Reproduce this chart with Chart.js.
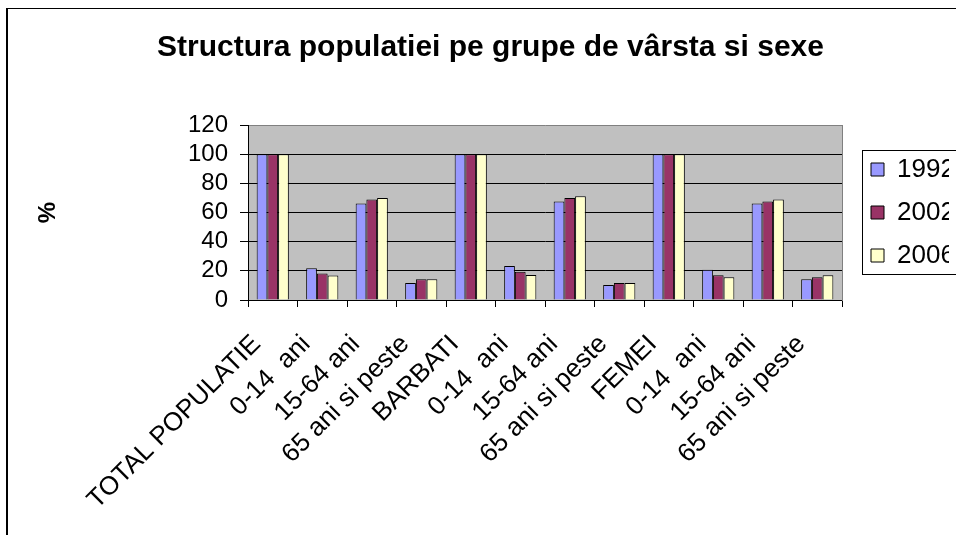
<!DOCTYPE html>
<html>
<head>
<meta charset="utf-8">
<script src="https://cdn.jsdelivr.net/npm/chart.js@4"></script>
<style>
  html, body { margin: 0; padding: 0; background: #fff; overflow: hidden; width: 956px; height: 535px; }
  #frame { position: absolute; left: 6px; top: 8px; border-left: 2px solid #000; border-top: 1px solid #000; }
  #chart { display: block; }
</style>
</head>
<body>
<div id="frame">
  <canvas id="chart" width="961" height="540" style="width:961px;height:540px"></canvas>
</div>
<script>
// --- Datos ---
const categorias = [
  'TOTAL POPULATIE', '0-14  ani', '15-64 ani', '65 ani si peste',
  'BARBATI', '0-14  ani', '15-64 ani', '65 ani si peste',
  'FEMEI', '0-14  ani', '15-64 ani', '65 ani si peste'
];
const anios = ['1992', '2002', '2006'];
const valores1992 = [100, 21.8, 66.2, 11.7, 100, 23.4, 67.6, 10.3, 100, 20.7, 66.2, 14.2];
const valores2002 = [100, 18.1, 69.0, 14.2, 100, 19.3, 70.0, 11.7, 100, 17.0, 67.6, 15.6];
const valores2006 = [100, 16.8, 70.0, 14.2, 100, 17.2, 71.2, 11.7, 100, 15.6, 69.0, 17.0];
const ticksY = [0, 20, 40, 60, 80, 100, 120];

const colores = ['#9999FF', '#993366', '#FFFFCC'];
const fuente = "'Liberation Sans', Arial, sans-serif";

// fondo gris del area de trazado
const fondoPlot = {
  id: 'fondoPlot',
  beforeDraw(chart) {
    const { ctx, chartArea: a } = chart;
    ctx.save();
    ctx.fillStyle = '#C0C0C0';
    ctx.fillRect(a.left, a.top, a.right - a.left, a.bottom - a.top);
    ctx.restore();
  }
};

// recuadro alrededor de la leyenda
const marcoLeyenda = {
  id: 'marcoLeyenda',
  afterDraw(chart) {
    const boxes = chart.legend && chart.legend.legendHitBoxes;
    if (!boxes || !boxes.length) return;
    const first = boxes[0];
    const last = boxes[boxes.length - 1];
    const ctx = chart.ctx;
    const x = Math.round(first.left - 9) + 0.5;
    const y = Math.round(first.top - 7) + 0.5;
    const h = Math.round(last.top + last.height + 5) - Math.round(first.top - 7);
    ctx.save();
    ctx.strokeStyle = '#000';
    ctx.lineWidth = 1;
    ctx.strokeRect(x, y, chart.width - x + 20, h);
    ctx.restore();
  }
};

const datasets = [valores1992, valores2002, valores2006].map((vals, i) => ({
  label: anios[i],
  data: vals,
  backgroundColor: colores[i],
  borderColor: '#000',
  borderWidth: 1,
  categoryPercentage: 0.65,
  barPercentage: 1.0
}));

new Chart(document.getElementById('chart'), {
  type: 'bar',
  data: { labels: categorias, datasets: datasets },
  options: {
    responsive: false,
    animation: false,
    layout: { padding: { left: 24, right: 20, top: 0, bottom: 0 } },
    scales: {
      x: {
        offset: true,
        grid: { drawOnChartArea: false, drawTicks: true, tickLength: 7, tickColor: '#000', offset: true },
        border: { color: '#000', width: 1 },
        ticks: {
          autoSkip: false, minRotation: 45, maxRotation: 45, padding: 22, labelOffset: -16,
          color: '#000', font: { family: fuente, size: 26 }
        },
        afterFit(scale) { scale.height = 249; }
      },
      y: {
        min: 0, max: 120,
        afterBuildTicks(scale) { scale.ticks = ticksY.map(v => ({ value: v })); },
        grid: {
          color: ctx => (ctx.tick && ctx.tick.value === 120 ? '#808080' : '#000'),
          lineWidth: 1, tickLength: 8, tickColor: '#000'
        },
        border: { color: '#000', width: 1 },
        ticks: { autoSkip: false, padding: 12, color: '#000', font: { family: fuente, size: 24 } },
        title: {
          display: true, text: '%', color: '#000',
          font: { family: fuente, size: 24, weight: 'bold' },
          padding: { top: 2, bottom: 0 }
        },
        afterFit(scale) { scale.width = 216; }
      },
      y2: {
        position: 'right',
        min: 0, max: 120,
        grid: { drawOnChartArea: false, drawTicks: false },
        border: { color: '#808080', width: 1 },
        ticks: { display: false },
        afterFit(scale) { scale.width = 12; }
      }
    },
    plugins: {
      title: {
        display: true,
        text: 'Structura populatiei pe grupe de vârsta si sexe',
        color: '#000',
        font: { family: fuente, size: 30, weight: 'bold' },
        padding: { top: 21, bottom: 59 }
      },
      legend: {
        position: 'right',
        align: 'center',
        fullSize: false,
        maxWidth: 95,
        labels: {
          boxWidth: 13, boxHeight: 13, padding: 17,
          color: '#000', font: { family: fuente, size: 26 }
        }
      },
      tooltip: { enabled: false }
    }
  },
  plugins: [fondoPlot, marcoLeyenda]
});
</script>
</body>
</html>
